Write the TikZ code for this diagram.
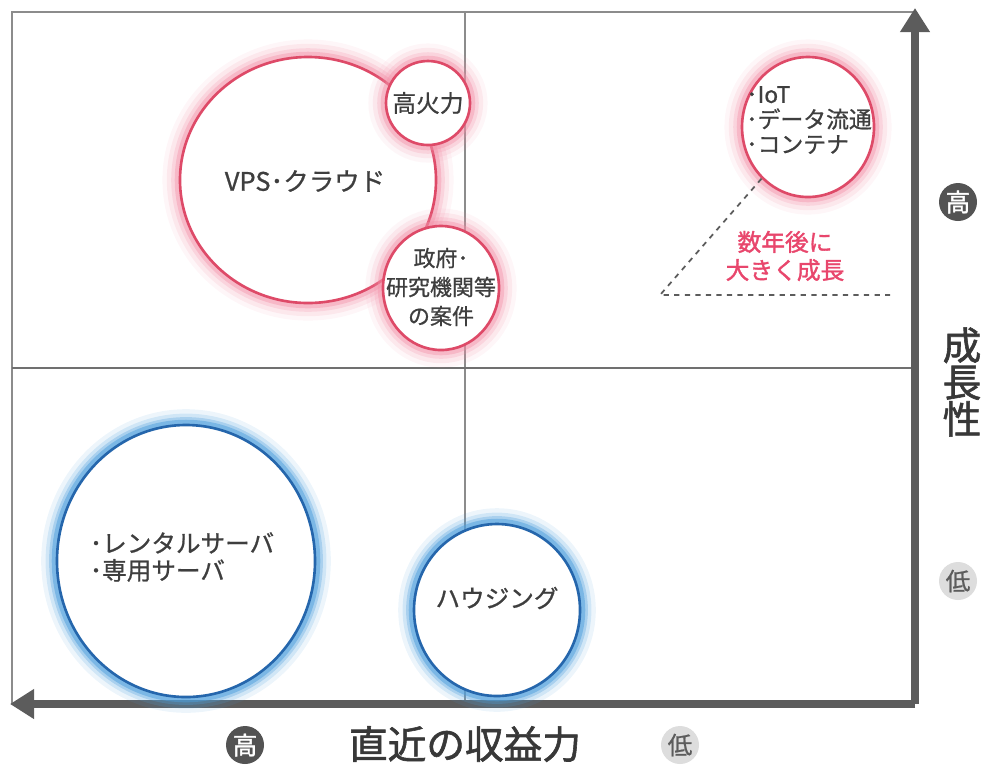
\documentclass[tikz,border=0pt]{standalone}
\usepackage{fontspec}
\setmainfont{Noto Sans CJK JP}
\newfontfamily\jpb{Noto Sans CJK JP}[FakeBold=1.5]
\newfontfamily\jpm{Noto Sans CJK JP}[FakeBold=0.8]
\usetikzlibrary{arrows.meta,shapes.geometric}
\definecolor{redc}{HTML}{DE4A68}
\definecolor{redglow}{HTML}{F28EA6}
\definecolor{bluec}{HTML}{2566AC}
\definecolor{blueglow}{HTML}{4E9FDC}
\definecolor{txt}{HTML}{3E3E3E}
\definecolor{axisc}{HTML}{5C5C5C}
\definecolor{framec}{HTML}{8C8C8C}
\definecolor{lowc}{HTML}{DDDDDD}
\definecolor{redtxt}{HTML}{E8466C}
\tikzset{
  bubble/.style={ellipse, inner sep=0pt, fill=white, line width=1.5pt},
  redbubble/.style={bubble, draw=redc,
    preaction={draw=redglow, line width=20pt, opacity=.08},
    preaction={draw=redglow, line width=15pt, opacity=.14},
    preaction={draw=redglow, line width=10pt, opacity=.22},
    preaction={draw=redglow, line width=6pt, opacity=.40}},
  bluebubble/.style={bubble, draw=bluec,
    preaction={draw=blueglow, line width=18pt, opacity=.10},
    preaction={draw=blueglow, line width=13pt, opacity=.18},
    preaction={draw=blueglow, line width=9pt, opacity=.30},
    preaction={draw=blueglow, line width=6pt, opacity=.50}},
  btxt/.style={text=txt, font=\jpm\fontsize{13.5}{16}\selectfont, align=center, inner sep=0pt},
  thinline/.style={draw=framec, line width=1pt},
  frameline/.style={draw=framec, line width=1.6pt},
  axisline/.style={draw=axisc, line width=5pt, -{Triangle[length=22pt/1.6, width=26pt/1.6]}},
  hibadge/.style={circle, fill=axisc!90!black, text=white, minimum size=38*0.02cm, inner sep=0pt, font=\jpb\fontsize{14}{14}\selectfont},
  lobadge/.style={circle, fill=lowc, text=axisc, minimum size=38*0.02cm, inner sep=0pt, font=\jpm\fontsize{14}{14}\selectfont},
  axtxt/.style={text=txt!90!black, font=\jpb\fontsize{22}{26}\selectfont, inner sep=0pt}
}
\begin{document}
\begin{tikzpicture}[x=0.02cm,y=-0.02cm]
\useasboundingbox (0,0) rectangle (989,769);
% coordinates of frame and axes
\coordinate (TL) at (12,12);
\coordinate (TR) at (915,12);
\coordinate (BL) at (12,704);
\coordinate (O) at (915,704);
\coordinate (Ltip) at (10,704);
\coordinate (Ttip) at (915,8);
\coordinate (DT) at (465,12);
\coordinate (DB) at (465,704);
\coordinate (HL) at (12,368);
\coordinate (HR) at (915,368);
% frame and dividers
\draw[frameline] (BL) -- (TL) -- (TR);
\draw[thinline] (DT) -- (DB);
\draw[thinline, draw=framec!80!black] (HL) -- (HR);
% axes
\draw[axisline] (O) -- (Ltip);
\draw[axisline] (O) -- (Ttip);
% bubbles
\node[redbubble, minimum width=256*0.02cm, minimum height=246*0.02cm] (vps) at (308,180) {};
\node[redbubble, minimum width=84*0.02cm, minimum height=84*0.02cm] (koka) at (428,103) {};
\node[redbubble, minimum width=116*0.02cm, minimum height=124*0.02cm] (gov) at (441,288) {};
\node[redbubble, minimum width=132*0.02cm, minimum height=140*0.02cm] (iot) at (808,127) {};
\node[bluebubble, minimum width=258*0.02cm, minimum height=272*0.02cm] (rent) at (186,561) {};
\node[bluebubble, minimum width=166*0.02cm, minimum height=172*0.02cm] (house) at (497,610) {};
% bubble texts
\node[btxt, font=\jpm\fontsize{14.5}{16}\selectfont] (vpst) at (305,181) {VPS･クラウド};
\node[btxt] (kokat) at (428,103) {高火力};
\node[btxt, font=\jpm\fontsize{12.5}{16.5}\selectfont] (govt) at (441,287) {政府･\\研究機関等\\の案件};
\node[btxt, align=left, font=\jpm\fontsize{13}{14.2}\selectfont] (iott) at (809,120) {･IoT\\･データ流通\\･コンテナ};
\node[btxt, align=left, font=\jpm\fontsize{14}{15.5}\selectfont] (rentt) at (182,557) {･レンタルサーバ\\･専用サーバ};
\node[btxt, font=\jpm\fontsize{14}{16}\selectfont] (houset) at (497,598) {ハウジング};
% growth annotation
\coordinate (corner) at (660,295);
\coordinate (dend) at (890,295);
\draw[dashed, draw=axisc, line width=1pt] (iot.228) -- (corner) -- (dend);
\node[text=redtxt, font=\jpb\fontsize{13.5}{16}\selectfont, align=center, inner sep=0pt] (grow) at (785,256) {数年後に\\大きく成長};
% axis labels
\node[hibadge] (hiR) at (958,202) {高};
\node[lobadge] (loR) at (958,581) {低};
\node[axtxt, align=center, font=\jpb\fontsize{22}{21}\selectfont] (yl) at (962,382) {成\\長\\性};
\node[hibadge] (hiB) at (245,745) {高};
\node[lobadge] (loB) at (680,745) {低};
\node[axtxt] (xl) at (465,744) {直近の収益力};
\end{tikzpicture}
\end{document}
